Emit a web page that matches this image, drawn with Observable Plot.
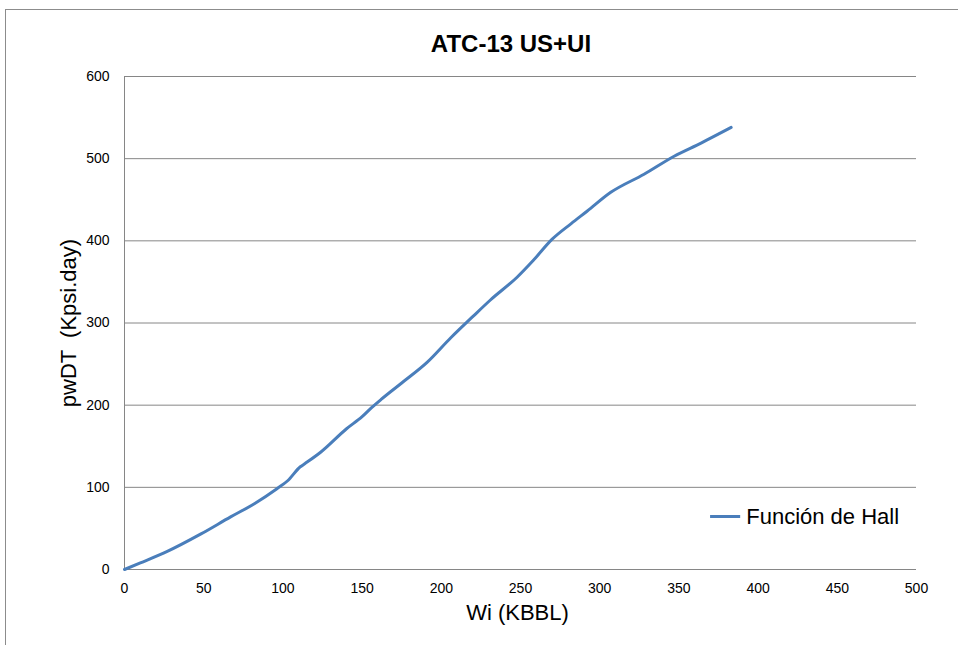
<!DOCTYPE html>
<html>
<head>
<meta charset="utf-8">
<script src="https://cdn.jsdelivr.net/npm/d3@7"></script>
<script src="https://cdn.jsdelivr.net/npm/@observablehq/plot@0.6"></script>
<style>
  body { margin: 0; background: #fff; }
  #wrap { position: relative; width: 958px; height: 645px; overflow: hidden; background: #fff; }
  #frame { position: absolute; left: 5px; top: 9px; width: 1000px; height: 700px; border-left: 1px solid #8c8c8c; border-top: 1px solid #8c8c8c; }
  #title { position: absolute; left: 0; top: 30px; width: 1022px; text-align: center; font: bold 24px "Liberation Sans", Arial, sans-serif; color: #000; }
  #chart { position: absolute; left: 0; top: 60px; }
</style>
</head>
<body>
<div id="wrap">
  <div id="frame"></div>
  <div id="title">ATC-13 US+UI</div>
  <div id="chart"></div>
</div>
<script>
// Wi (KBBL)
const wi = [0, 10, 27, 48, 67, 82, 96, 103, 111, 114, 124, 140, 150, 156, 162, 175, 191, 206, 220, 231, 248, 258, 270, 282, 292, 307, 328, 347, 364, 383];
// pwDT (Kpsi.day)
const pwdt = [0, 8, 22, 43, 64, 80, 98, 108, 125, 129, 143, 171, 186, 197, 207, 227, 252, 282, 308, 328, 356, 376, 402, 421, 436, 459, 481, 503, 519, 538];
const xTicks = [0, 50, 100, 150, 200, 250, 300, 350, 400, 450, 500];
const yTicks = [0, 100, 200, 300, 400, 500, 600];
const seriesName = "Función de Hall";
const xLabel = "Wi (KBBL)";
const yLabel = "pwDT  (Kpsi.day)";

const data = wi.map((x, i) => ({x, y: pwdt[i]}));
const lineColor = "#4a7ebb";
const tickFont = "\"Liberation Sans Narrow\", \"Liberation Sans\", Arial, sans-serif";
const labelFont = "\"Liberation Sans\", Arial, sans-serif";

const chart = Plot.plot({
  width: 958,
  height: 585,
  marginTop: 16,
  marginBottom: 76,
  marginLeft: 124,
  marginRight: 42,
  style: { fontFamily: tickFont, fontSize: "14px", color: "#000", background: "transparent" },
  x: { domain: [0, 500] },
  y: { domain: [0, 600] },
  marks: [
    Plot.gridY(yTicks.filter(d => d > 0), { stroke: "#868686", strokeOpacity: 1, strokeWidth: 1 }),
    Plot.ruleY([0], { stroke: "#868686" }),
    Plot.ruleX([0], { stroke: "#868686" }),
    Plot.axisY({ ticks: yTicks, tickSize: 0, tickPadding: 15, label: null, fontSize: 14 }),
    Plot.axisX({ ticks: xTicks, tickSize: 0, tickPadding: 14, label: null, fontSize: 14 }),
    Plot.line(data, { x: "x", y: "y", stroke: lineColor, strokeWidth: 3, strokeLinejoin: "round", strokeLinecap: "round", curve: "monotone-x" }),
    Plot.text([xLabel], { frameAnchor: "bottom", textAnchor: "middle", dy: 50, dx: -3, text: d => d, fontSize: 22, fontFamily: labelFont }),
    Plot.text([yLabel], { frameAnchor: "left", textAnchor: "middle", dx: -56, dy: 0, rotate: -90, text: d => d, fontSize: 22, fontFamily: labelFont }),
    // legend
    Plot.ruleY([seriesName], { y: () => 64.5, x1: 370, x2: 389, stroke: lineColor, strokeWidth: 3 }),
    Plot.text([seriesName], { x: () => 392.5, y: () => 64.5, text: d => d, textAnchor: "start", fontSize: 22, fontFamily: labelFont })
  ]
});
document.getElementById("chart").appendChild(chart);
</script>
</body>
</html>
